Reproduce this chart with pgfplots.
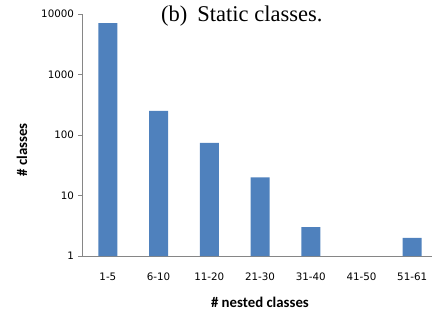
\documentclass[border=0pt]{standalone}
\usepackage{pgfplots}
\pgfplotsset{compat=1.18}
\usepackage{fontspec}
\setmainfont{DejaVu Sans}
\newfontfamily\titlefont{Liberation Serif}
\newfontfamily\labelfont{Carlito}
\definecolor{barblue}{HTML}{4F81BD}
\definecolor{axgray}{HTML}{868686}
\begin{document}
\begin{tikzpicture}[x=1pt,y=1pt]
\path[use as bounding box] (-82.5,-60) rectangle (350.5,256);
\begin{axis}[
  at={(0,0)}, anchor=south west,
  scale only axis, width=350pt, height=242pt,
  ymode=log, ymin=1, ymax=10000,
  xmin=-0.5, xmax=6.4,
  ybar, bar width=19pt,
  axis x line*=bottom, axis y line*=left,
  axis line style={axgray, line width=0.8pt, -},
  xtick={0,1,2,3,4,5,6},
  xticklabels={1-5,6-10,11-20,21-30,31-40,41-50,51-61},
  xtick style={draw=none},
  ytick={1,10,100,1000,10000},
  yticklabels={1,10,100,1000,10000},
  ytick style={axgray, line width=0.8pt},
  tick align=outside, major tick length=4pt,
  minor tick num=0, yminorticks=false,
  tick label style={font=\fontsize{10.3}{12}\selectfont, black},
  xticklabel style={yshift=-9pt},
  yticklabel style={xshift=-1pt},
  xlabel={\# nested classes},
  ylabel={\# classes},
  xlabel style={font=\labelfont\fontsize{14.8}{17}\selectfont\bfseries, at={(axis description cs:0.507,-0.19)}, anchor=center},
  ylabel style={font=\labelfont\fontsize{14.8}{17}\selectfont\bfseries, at={(axis description cs:-0.173,0.438)}, anchor=center, rotate=0},
  clip=false,
]
\addplot[fill=barblue, draw=none] coordinates {(0,7100) (1,250) (2,74) (3,20) (4,3) (6,2)};
\node[font=\titlefont\fontsize{22.5}{26}\selectfont, anchor=center] at (axis description cs:0.455,0.993) {(b)\hspace{0.45em}Static classes.};
\end{axis}
\end{tikzpicture}
\end{document}
